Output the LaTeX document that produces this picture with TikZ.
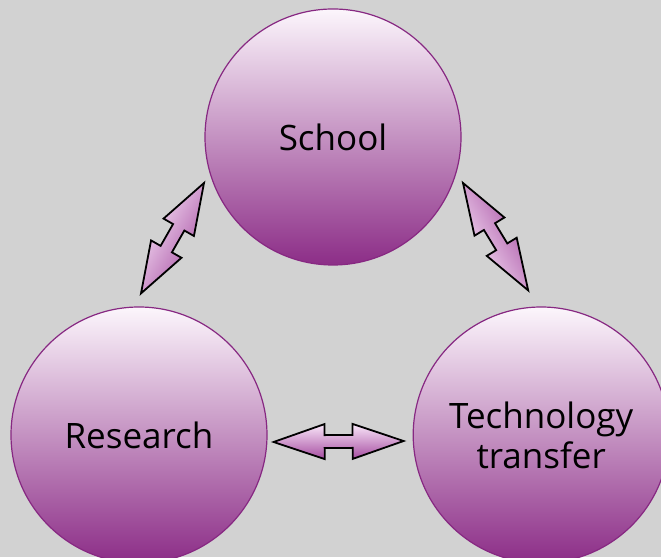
\documentclass[tikz,border=0pt]{standalone}
\usepackage{fontspec}
\setmainfont{Open Sans}
\usetikzlibrary{calc,positioning}
\definecolor{bg}{RGB}{210,210,210}
\definecolor{plum}{RGB}{135,40,130}
\definecolor{plumtop}{RGB}{252,246,252}
\definecolor{plummid}{RGB}{208,150,204}
\definecolor{plumbot}{RGB}{140,45,135}
\definecolor{arrlight}{RGB}{250,232,250}
\definecolor{arrdark}{RGB}{165,75,160}

% block double arrow between two coordinates, #1 = shading angle
\newcommand{\arrhead}{51pt}
\newcommand{\arrwing}{17.5pt}
\newcommand{\arrshaft}{6.5pt}
\newcommand{\dblarrow}[3]{%
  \shade[blockarrow, shading angle=#1]
    (#2) -- ($(#2)!\arrhead!(#3)!\arrwing!90:(#3)$)
    -- ($(#2)!\arrhead!(#3)!\arrshaft!90:(#3)$)
    -- ($(#3)!\arrhead!(#2)!\arrshaft!-90:(#2)$)
    -- ($(#3)!\arrhead!(#2)!\arrwing!-90:(#2)$)
    -- (#3)
    -- ($(#3)!\arrhead!(#2)!\arrwing!90:(#2)$)
    -- ($(#3)!\arrhead!(#2)!\arrshaft!90:(#2)$)
    -- ($(#2)!\arrhead!(#3)!\arrshaft!-90:(#3)$)
    -- ($(#2)!\arrhead!(#3)!\arrwing!-90:(#3)$)
    -- cycle;}

\begin{document}
\begin{tikzpicture}[x=1pt, y=1pt, font=\fontsize{35}{40}\selectfont,
  unit/.style={circle, draw=plum, line width=1.2pt, minimum size=256pt, inner sep=0pt,
    top color=plumtop, middle color=plummid, bottom color=plumbot, align=center},
  blockarrow/.style={draw=black, line width=1.8pt, top color=arrlight, bottom color=arrdark}]
  \fill[bg] (0,0) rectangle (661,557);
  \useasboundingbox (0,0) rectangle (661,557);
  \node[unit] (school) at (333,420) {School};
  \node[unit] (research) at (139,122) {Research};
  \node[unit, right=145pt of research] (transfer) {Technology\\transfer};
  % arrow ends, just off the circles
  \coordinate (rs) at ([shift={(2,13)}]research.north);
  \coordinate (sr) at ([shift={(-129,-46)}]school.center);
  \coordinate (st) at ([shift={(130,-46)}]school.center);
  \coordinate (ts) at ([shift={(-13,16)}]transfer.north);
  \coordinate (rt) at ([shift={(6,-7)}]research.east);
  \coordinate (tr) at ([shift={(-9,-6)}]transfer.west);
  \dblarrow{60}{rs}{sr}
  \dblarrow{120}{ts}{st}
  \dblarrow{0}{rt}{tr}
\end{tikzpicture}
\end{document}
